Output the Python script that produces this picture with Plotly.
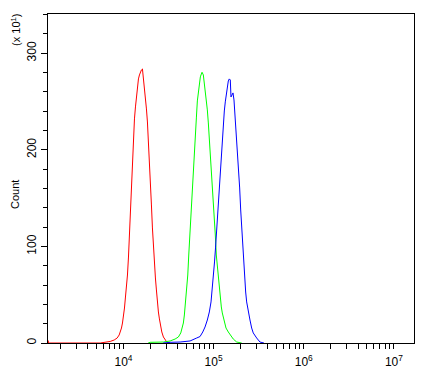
import plotly.graph_objects as go

# ---- data (fluorescence intensity, count/10) ----
red_x = [1456, 1456, 1470, 1470,
         5520, 6270, 7120, 7890, 8515, 8960, 9264, 9500, 9750, 10000,
         10260, 10520, 10800, 11070, 11360, 11650, 11950, 12170, 12390, 12580,
         12900, 13240, 13580, 13930, 14290, 14660, 15040, 15430, 15820, 16230,
         16650, 17080, 17520, 17980, 18440, 18920, 19400, 19910, 20420, 20950,
         21490, 22040, 22610, 23190, 23790, 24400, 25040, 25690, 26620, 27730,
         28960, 30240, 32900]
red_y = [0, 2.5, 2.5, 0,
         0, 0.5, 1.6, 3.1, 5.2, 8.3, 11.4, 15.5, 20.7, 26.9,
         36.2, 47.6, 58.0, 70.4, 89.0, 113.9, 134.6, 153.3, 169.8, 190.5,
         213.3, 232.0, 244.4, 254.7, 265.1, 273.4, 277.5, 280.6, 282.7, 283.7,
         274.4, 262.0, 252.7, 242.3, 228.8, 209.9, 189.2, 166.7, 142.9, 119.1,
         98.4, 80.8, 67.3, 54.9, 41.4, 32.1, 24.9, 18.6, 11.4, 6.2,
         3.1, 1.0, 0]

green_x = [18770, 19760, 27730, 32900, 37370, 40660, 43210, 44670, 46170, 47370,
           48600, 50360, 51670, 52990, 54360, 55770, 57220, 58090, 59590, 61130,
           62710, 64330, 65990, 67700, 69440, 71240, 73080, 74380, 76900, 78890,
           80930, 83010, 85150, 87360, 89620, 91910, 94300, 96740, 99240, 101800,
           104400, 107100, 109900, 112700, 115600, 118600, 121700, 124800, 128000, 131400,
           137200, 145500, 154600, 165200, 180200, 204800]
green_y = [0, 0.7, 1.0, 2.1, 4.1, 6.2, 10.4, 15.5, 20.7, 29.0,
           39.3, 52.8, 70.4, 91.1, 111.8, 132.5, 151.2, 160.5, 176.0, 194.7,
           215.4, 233.0, 250.6, 261.0, 269.2, 275.5, 278.5, 280.3, 277.5, 269.2,
           259.9, 251.6, 241.3, 227.8, 212.3, 192.6, 174.0, 160.5, 150.1, 132.5,
           111.8, 91.1, 78.7, 67.3, 57.0, 46.6, 37.3, 31.1, 25.9, 20.7,
           15.5, 11.4, 8.3, 4.1, 1.0, 0]

blue_x = [27520, 28960, 32900, 42450, 54780, 64980, 70700, 75740, 80300, 85150,
          89620, 93580, 96010, 98470, 99750, 102300, 104950, 107670, 110460, 112700,
          115600, 118600, 121700, 124800, 128000, 131400, 134700, 138200, 141800, 145500,
          149200, 153100, 155800, 159800, 164000, 168200, 171300, 175700, 180200, 184900,
          189600, 194500, 199600, 204800, 210000, 215400, 221000, 226700, 232500, 242300,
          253000, 264200, 275200, 300100, 326400, 361500]
blue_y = [0, 0.3, 0.7, 1.0, 2.1, 5.2, 6.7, 11.4, 16.6, 23.8,
          32.1, 42.5, 52.8, 65.2, 70.4, 83.9, 98.4, 114.9, 137.7, 148.1,
          161.5, 181.2, 200.9, 218.5, 230.9, 240.2, 249.6, 258.9, 266.1, 271.3,
          273.4, 272.3, 254.7, 256.8, 258.9, 251.6, 241.3, 227.8, 213.3, 199.9,
          181.2, 160.5, 137.7, 119.1, 101.5, 83.9, 67.3, 52.8, 42.5, 32.1,
          23.8, 15.5, 10.4, 5.2, 1.0, 0]

x_major = [1e4, 1e5, 1e6, 1e7]
x_major_text = ["10<sup>4</sup>", "10<sup>5</sup>", "10<sup>6</sup>", "10<sup>7</sup>"]
x_minor = [m * 10 ** e for e in (3, 4, 5, 6, 7) for m in range(2, 10)]
y_major = [0, 100, 200, 300]
y_minor = [v for v in range(20, 341, 20) if v not in y_major]

FONT = "Arial, Liberation Sans, sans-serif"

fig = go.Figure()
for xs, ys, col in ((red_x, red_y, "#ff0000"),
                    (green_x, green_y, "#00ff00"),
                    (blue_x, blue_y, "#0000ff")):
    fig.add_trace(go.Scatter(x=xs, y=ys, mode="lines",
                             line=dict(color=col, width=1),
                             hoverinfo="skip", showlegend=False))

fig.update_layout(
    width=430, height=373,
    margin=dict(l=48, r=16, t=14, b=30, autoexpand=False),
    paper_bgcolor="white", plot_bgcolor="white",
    font=dict(family=FONT, size=12, color="black"),
    showlegend=False,
)
fig.update_xaxes(
    type="log", range=[3.1628, 7.2226], automargin=False,
    tickmode="array", tickvals=x_major, ticktext=x_major_text,
    ticks="outside", ticklen=5, tickwidth=1, tickcolor="black",
    tickfont=dict(family=FONT, size=12), ticklabelstandoff=3,
    minor=dict(tickmode="array", tickvals=x_minor, ticks="outside",
               ticklen=5, tickwidth=1, tickcolor="black", showgrid=False),
    showline=True, linecolor="black", linewidth=1, mirror=True,
    showgrid=False, zeroline=False,
)
fig.update_yaxes(
    range=[0, 340.6], automargin=False,
    tickmode="array", tickvals=y_major,
    ticks="outside", ticklen=6, tickwidth=1, tickcolor="black",
    tickangle=-90, tickfont=dict(family=FONT, size=12),
    minor=dict(tickmode="array", tickvals=y_minor, ticks="outside",
               ticklen=4, tickwidth=1, tickcolor="black", showgrid=False),
    showline=True, linecolor="black", linewidth=1, mirror=True,
    showgrid=False, zeroline=False,
)
fig.add_annotation(text="Count", xref="paper", yref="paper",
                   x=-0.09, y=0.45, xanchor="center", yanchor="middle",
                   showarrow=False, textangle=-90,
                   font=dict(family=FONT, size=11))
fig.add_annotation(text="(x 10<sup>1</sup>)", xref="paper", yref="paper",
                   x=-0.088, y=0.951, xanchor="center", yanchor="middle",
                   showarrow=False, textangle=-90,
                   font=dict(family=FONT, size=11))

fig.write_html("out.html")
